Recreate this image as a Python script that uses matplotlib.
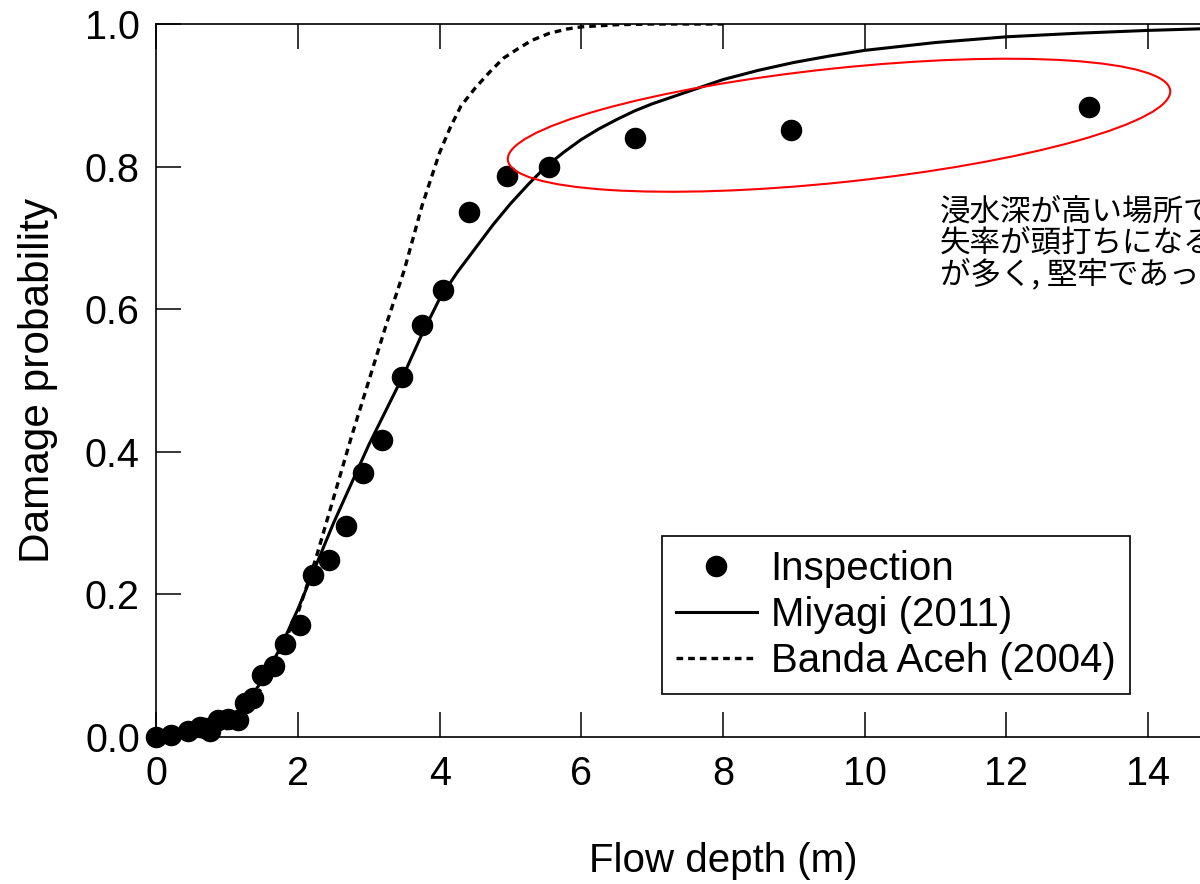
import numpy as np
import matplotlib
matplotlib.use('Agg')
import matplotlib.pyplot as plt
from matplotlib.patches import Ellipse
from matplotlib.transforms import ScaledTranslation

plt.rcParams['font.family'] = ['Liberation Sans', 'DejaVu Sans']

# inspection results (flow depth, damage ratio)
insp_depth = [0.0, 0.20, 0.45, 0.61, 0.68, 0.76, 0.87, 1.01, 1.15, 1.25, 1.36, 1.49,
              1.66, 1.81, 2.02, 2.21, 2.43, 2.68, 2.92, 3.18, 3.47, 3.75, 4.05, 4.42,
              4.95, 5.54, 6.76, 8.96, 13.17]
insp_prob = [0.0, 0.003, 0.009, 0.014, 0.013, 0.009, 0.024, 0.025, 0.024, 0.048, 0.055, 0.087,
             0.099, 0.131, 0.157, 0.227, 0.248, 0.296, 0.370, 0.417, 0.505, 0.578, 0.627, 0.737,
             0.787, 0.800, 0.840, 0.851, 0.884]

# fragility curve, Miyagi (2011)
miyagi_depth = [0, 0.5, 0.75, 1.0, 1.25, 1.5, 1.75, 2.0, 2.25, 2.5, 2.75, 3.0, 3.25, 3.5,
                3.75, 4.0, 4.25, 4.5, 4.75, 5.0, 5.25, 5.5, 5.75, 6.0, 6.25, 6.5, 6.75, 7.0,
                7.5, 8.0, 8.5, 9.0, 9.5, 10, 11, 12, 13, 14, 15, 16]
miyagi_prob = [0, 0.001, 0.007, 0.02, 0.045, 0.08, 0.125, 0.18, 0.24, 0.30, 0.355, 0.41, 0.46,
               0.51, 0.565, 0.615, 0.652, 0.685, 0.718, 0.748, 0.775, 0.80, 0.82, 0.838, 0.853,
               0.866, 0.878, 0.888, 0.905, 0.922, 0.935, 0.946, 0.955, 0.963, 0.974, 0.982,
               0.987, 0.991, 0.994, 0.996]

# fragility curve, Banda Aceh (2004)
aceh_depth = [0, 0.5, 1.0, 1.5, 2.0, 2.25, 2.5, 2.75, 3.0, 3.25, 3.5, 3.75, 4.0, 4.15,
              4.3, 4.5, 4.7, 4.9, 5.1, 5.3, 5.55, 5.8, 6.0, 6.5, 7.0, 8.0]
aceh_prob = [0, 0.0, 0.012, 0.07, 0.175, 0.25, 0.335, 0.42, 0.50, 0.58, 0.655, 0.745, 0.82, 0.855,
             0.885, 0.91, 0.932, 0.952, 0.965, 0.977, 0.987, 0.993, 0.996, 0.999, 1.0, 1.0]

labels = ['Inspection', 'Miyagi (2011)', 'Banda Aceh (2004)']
note_lines = ['浸水深が高い場所で', '失率が頭打ちになる', 'が多く, 堅牢であった']

W, H = 1200, 884
fig = plt.figure(figsize=(W / 100, H / 100), dpi=100)
ax = fig.add_axes([156.5 / W, (H - 737) / H, 16 * 70.8 / W, 713 / H])

l_m, = ax.plot(miyagi_depth, miyagi_prob, color='black', lw=2.2, zorder=2)
l_a, = ax.plot(aceh_depth, aceh_prob, color='black', lw=2.4, dashes=(2.0, 1.5), zorder=2)
p_i, = ax.plot(insp_depth, insp_prob, 'o', color='black', ms=14.5, clip_on=False, zorder=3)

ax.set_xlim(0, 16)
ax.set_ylim(0, 1.0)
ax.set_xticks(np.arange(0, 15, 2))
ax.set_yticks(np.arange(0, 1.01, 0.2))
ax.set_yticklabels(['%.1f' % v for v in np.arange(0, 1.01, 0.2)])
ax.tick_params(direction='in', length=18, width=1.1, labelsize=28.5,
               top=True, right=True)
ax.tick_params(axis='x', pad=13)
ax.tick_params(axis='y', pad=12)
for s in ax.spines.values():
    s.set_linewidth(1.2)

ax.set_xlabel('Flow depth (m)', fontsize=29, labelpad=35)
ax.set_ylabel('Damage probability', fontsize=30.5, labelpad=19)

# red ellipse around the high depth points (size in pixels)
trans = fig.dpi_scale_trans + ScaledTranslation(9.64, 0.858, ax.transData)
ell = Ellipse((0, 0), 6.66, 1.14, angle=6.0, fill=False, edgecolor='red', lw=1.5,
              transform=trans, zorder=4)
ax.add_patch(ell)

leg = ax.legend([p_i, l_m, l_a], labels, loc='upper left',
                bbox_to_anchor=(662 / W, 1 - 536 / H), bbox_transform=fig.transFigure,
                fontsize=29, frameon=True, fancybox=False, edgecolor='black', framealpha=1,
                handlelength=2.0, handletextpad=0.35, labelspacing=0.2, borderpad=0.35,
                borderaxespad=0, numpoints=1)
leg.get_frame().set_linewidth(1.2)

for i, line in enumerate(note_lines):
    fig.text(940 / W, 1 - (212 + 31 * i) / H, line, fontsize=22, va='center', ha='left',
             family=['Noto Sans CJK JP', 'DejaVu Sans'])

fig.savefig('out.png', dpi=100)
